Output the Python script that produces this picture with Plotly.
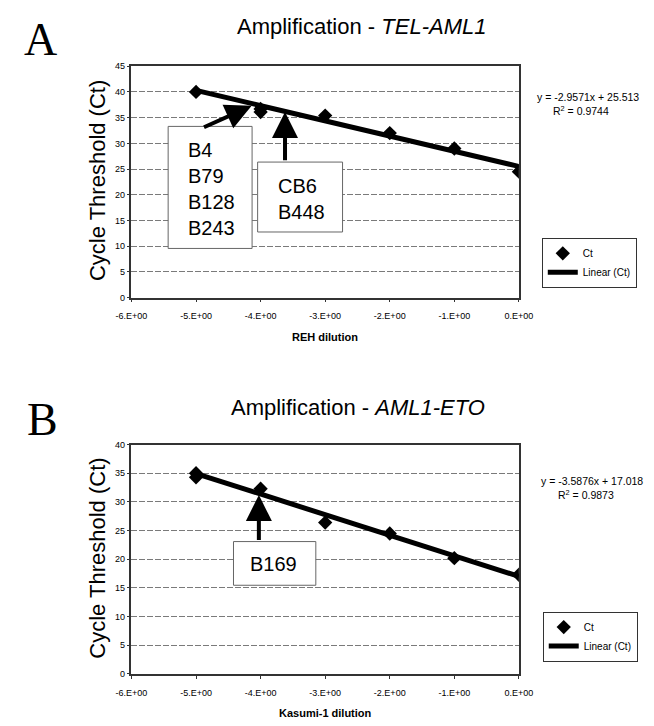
import plotly.graph_objects as go

# Page body has an 8px default margin; the figure is sized so it ends at the window edge.
OFF = 8
W, H = 654 - OFF, 726 - OFF

# ---------------- data ----------------
x_tickvals = [-6, -5, -4, -3, -2, -1, 0]
x_ticktext = ["-6.E+00", "-5.E+00", "-4.E+00", "-3.E+00", "-2.E+00", "-1.E+00", "0.E+00"]

a_dilution = [-5, -4, -4, -3, -2, -1, 0]
a_ct = [40.0, 36.7, 36.1, 35.4, 32.0, 29.0, 24.5]
a_slope, a_intercept, a_r2 = -2.9571, 25.513, 0.9744

b_dilution = [-5, -5, -4, -3, -2, -1, 0]
b_ct = [35.0, 34.3, 32.3, 26.4, 24.5, 20.2, 17.3]
b_slope, b_intercept, b_r2 = -3.5876, 17.018, 0.9873

a_box1_labels = ["B4", "B79", "B128", "B243"]
a_box2_labels = ["CB6", "B448"]
b_box_labels = ["B169"]

SANS = "Arial, 'Liberation Sans', sans-serif"
SERIF = "'Times New Roman', 'Liberation Serif', serif"


def px(x):
    return (x - OFF) / W


def py(y):
    return 1 - (y - OFF) / H


def trend(xs, m, b):
    lo, hi = min(xs), max(xs)
    return [lo, hi], [m * lo + b, m * hi + b]


fig = go.Figure()

# Panel A traces
tx, ty = trend(a_dilution, a_slope, a_intercept)
fig.add_trace(go.Scatter(x=tx, y=ty, mode="lines", name="Linear (Ct)",
                         line=dict(color="black", width=5), legendrank=2,
                         xaxis="x", yaxis="y", legend="legend"))
fig.add_trace(go.Scatter(x=a_dilution, y=a_ct, mode="markers", name="Ct",
                         marker=dict(symbol="diamond", size=11, color="black"),
                         legendrank=1, xaxis="x", yaxis="y", legend="legend"))
# Panel B traces
tx, ty = trend(b_dilution, b_slope, b_intercept)
fig.add_trace(go.Scatter(x=tx, y=ty, mode="lines", name="Linear (Ct)",
                         line=dict(color="black", width=5), legendrank=2,
                         xaxis="x2", yaxis="y2", legend="legend2"))
fig.add_trace(go.Scatter(x=b_dilution, y=b_ct, mode="markers", name="Ct",
                         marker=dict(symbol="diamond", size=11, color="black"),
                         legendrank=1, xaxis="x2", yaxis="y2", legend="legend2"))

xdom = [px(120.7), px(527)]
common_x = dict(domain=xdom, range=[-6, 0], tickmode="array", tickvals=x_tickvals,
                ticktext=x_ticktext, showgrid=False, zeroline=False, showline=True,
                mirror=True, linecolor="#333", linewidth=1.5, ticks="outside",
                ticklen=3, tickcolor="#333", tickfont=dict(family=SANS, size=9, color="black"),
                ticklabelstandoff=6, fixedrange=True)
common_y = dict(dtick=5, showgrid=True, gridcolor="#7a7a7a", gridwidth=1,
                griddash="6px,2px", zeroline=False, showline=True, mirror=True,
                linecolor="#333", linewidth=1.5, ticks="outside", ticklen=3,
                tickcolor="#333", tickfont=dict(family=SANS, size=9, color="black"),
                fixedrange=True)

fig.update_layout(
    width=W, height=H, margin=dict(l=0, r=0, t=0, b=0),
    paper_bgcolor="white", plot_bgcolor="white",
    xaxis=dict(common_x, anchor="y"),
    yaxis=dict(common_y, domain=[py(296.6), py(62)], range=[0, 45], anchor="x"),
    xaxis2=dict(common_x, anchor="y2"),
    yaxis2=dict(common_y, domain=[py(678.3), py(445.7)], range=[0, 40], anchor="x2"),
    legend=dict(x=px(551), y=py(236), xanchor="left", yanchor="top",
                bgcolor="white", bordercolor="#333", borderwidth=1,
                font=dict(family=SANS, size=10, color="black"), tracegroupgap=0),
    legend2=dict(x=px(552), y=py(615), xanchor="left", yanchor="top",
                 bgcolor="white", bordercolor="#333", borderwidth=1,
                 font=dict(family=SANS, size=10, color="black"), tracegroupgap=0),
    showlegend=True,
)

ann = []
shapes = []


def text_ann(x, y, text, size, family=SANS, xanchor="center", yanchor="middle",
             angle=0, xref="paper", yref="paper", align="center"):
    ann.append(dict(x=x, y=y, xref=xref, yref=yref, text=text, showarrow=False,
                    xanchor=xanchor, yanchor=yanchor, textangle=angle, align=align,
                    font=dict(family=family, size=size, color="black")))


# Panel letters
text_ann(px(25), py(35), "A", 46, family=SERIF)
text_ann(px(27), py(420), "B", 46, family=SERIF)
# Titles
text_ann(px(362), py(22), "Amplification - <i>TEL-AML1</i>", 22)
text_ann(px(358), py(408), "Amplification - <i>AML1-ETO</i>", 22)
# Y titles
text_ann(px(85), py(178), "Cycle Threshold (Ct)", 22, angle=-90)
text_ann(px(85), py(561), "Cycle Threshold (Ct)", 22, angle=-90)
# X titles
text_ann(px(324), py(337), "<b>REH dilution</b>", 11)
text_ann(px(324), py(718), "<b>Kasumi-1 dilution</b>", 11)
# Equations
text_ann(px(544), py(93), f"y = {a_slope}x + {a_intercept}", 10.5, xanchor="left")
text_ann(px(592), py(107), f"R<sup>2</sup> = {a_r2}", 10.5)
text_ann(px(548), py(483), f"y = {b_slope}x + {b_intercept}", 10.5, xanchor="left")
text_ann(px(597), py(496), f"R<sup>2</sup> = {b_r2}", 10.5)

# Label boxes (data coordinates of each panel)
box_line = dict(color="#666", width=1)
shapes.append(dict(type="rect", xref="x", yref="y", x0=-5.432, x1=-4.132, y0=9.56, y1=33.3,
                   fillcolor="white", line=box_line, layer="above"))
shapes.append(dict(type="rect", xref="x", yref="y", x0=-4.046, x1=-2.731, y0=12.76, y1=26.36,
                   fillcolor="white", line=box_line, layer="above"))
shapes.append(dict(type="rect", xref="x2", yref="y2", x0=-4.42, x1=-3.145, y0=15.47, y1=23.09,
                   fillcolor="white", line=box_line, layer="above"))

text_ann(-5.154, 21.2, "<br>".join(a_box1_labels), 20, xanchor="left", xref="x", yref="y",
         align="left")
text_ann(-3.755, 19.2, "<br>".join(a_box2_labels), 20, xanchor="left", xref="x", yref="y",
         align="left")
text_ann(-3.795, 19.2, "<br>".join(b_box_labels), 20, xref="x2", yref="y2")


def arrow(xt, yt, xs, ys, xref, yref):
    ann.append(dict(x=xt, y=yt, ax=xs, ay=ys, xref=xref, yref=yref, axref=xref, ayref=yref,
                    text="", showarrow=True, arrowhead=2, arrowsize=1.3, arrowwidth=4,
                    arrowcolor="black", standoff=0))


arrow(-4.139, 37.3, -4.90, 33.0, "x", "y")
arrow(-3.622, 36.1, -3.622, 26.4, "x", "y")
arrow(-4.027, 31.2, -4.027, 23.1, "x2", "y2")

fig.update_layout(annotations=ann, shapes=shapes)

fig.write_html("out.html")
